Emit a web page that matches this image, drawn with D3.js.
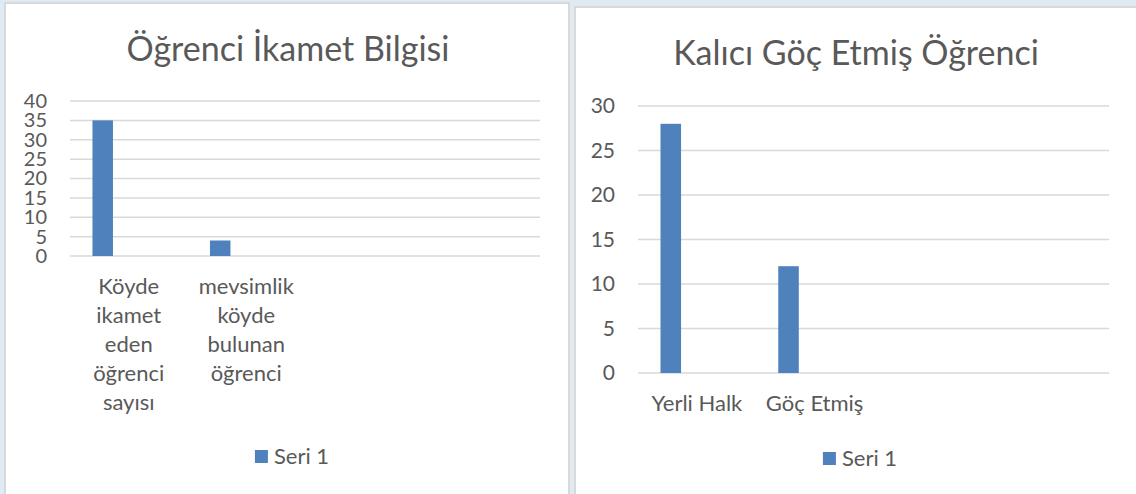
<!DOCTYPE html>
<html>
<head>
<meta charset="utf-8">
<script src="https://cdn.jsdelivr.net/npm/d3@7"></script>
<style>
    html, body { margin: 0; padding: 0; background: #dfeaf2; }
    svg { display: block; font-family: Lato, "Open Sans", sans-serif; }
</style>
</head>
<body>
<div id="charts"></div>
<script>
// Values
const ikametCategories = ["Köyde ikamet eden öğrenci sayısı", "mevsimlik köyde bulunan öğrenci", "", ""];
const ikametValues = [35, 4];
const ikametTicks = [0, 5, 10, 15, 20, 25, 30, 35, 40];

const gocCategories = ["Yerli Halk", "Göç Etmiş", "", ""];
const gocValues = [28, 12];
const gocTicks = [0, 5, 10, 15, 20, 25, 30];

// Excel clustered layout keeps room for three series; only the first has data
const seriesSlots = ["Seri 1", "Seri 2", "Seri 3"];
const legendLabel = "Seri 1";

(function () {
    const width = 1136;
    const height = 494;
    const textColor = '#595959';
    const barColor = '#4f81bd';

    const svg = d3.select('#charts')
        .append('svg')
        .attr('width', width)
        .attr('height', height);

    svg.append('rect')
        .attr('width', width)
        .attr('height', height)
        .attr('fill', '#dfeaf2');

    function drawChart(cfg) {
        const g = svg.append('g');

        // chart area (white panel)
        g.append('rect')
            .attr('x', cfg.panel[0])
            .attr('y', cfg.panel[1])
            .attr('width', cfg.panel[2])
            .attr('height', cfg.panel[3])
            .attr('fill', '#fff')
            .attr('stroke', '#d9d9d9')
            .attr('stroke-width', 2);

        g.append('text')
            .attr('x', cfg.titleX)
            .attr('y', cfg.titleY)
            .attr('text-anchor', 'middle')
            .attr('fill', textColor)
            .style('font-size', '34px')
            .text(cfg.title);

        const x0 = d3.scaleBand()
            .domain(d3.range(cfg.categories.length))
            .range([cfg.plotLeft, cfg.plotRight]);

        // gap width 219%, overlap -27%
        const x1 = d3.scaleBand()
            .domain(seriesSlots)
            .range([0, x0.bandwidth()])
            .paddingInner(0.27 / 1.27)
            .paddingOuter(1.095 / 1.27);

        const y = d3.scaleLinear()
            .domain([0, cfg.max])
            .range([cfg.plotBottom, cfg.plotTop]);

        // gridlines
        g.selectAll('.grid')
            .data(cfg.ticks)
            .enter()
            .append('line')
            .attr('x1', cfg.plotLeft)
            .attr('x2', cfg.plotRight)
            .attr('y1', d => y(d))
            .attr('y2', d => y(d))
            .attr('stroke', '#d9d9d9')
            .attr('stroke-width', 1.5);

        // y axis labels
        const yAxis = d3.axisLeft(y)
            .tickValues(cfg.ticks)
            .tickSize(0)
            .tickPadding(cfg.plotLeft - cfg.labelRight);

        const yg = g.append('g')
            .attr('transform', `translate(${cfg.plotLeft},0)`)
            .call(yAxis);
        yg.select('.domain').remove();
        yg.selectAll('text')
            .attr('fill', textColor)
            .style('font-family', 'Lato, "Open Sans", sans-serif')
            .style('font-size', cfg.tickSize + 'px');

        // bars
        g.selectAll('.bar')
            .data(cfg.values)
            .enter()
            .append('rect')
            .attr('x', (d, i) => x0(i) + x1(seriesSlots[0]))
            .attr('y', d => y(d))
            .attr('width', x1.bandwidth())
            .attr('height', d => y(0) - y(d))
            .attr('fill', barColor);

        // category labels, wrapped to the band width
        const maxW = x0.step() * 0.95;
        cfg.categories.forEach((label, i) => {
            if (!label) return;
            const t = g.append('text')
                .attr('text-anchor', 'middle')
                .attr('fill', textColor)
                .style('font-size', '22px');
            const words = label.split(' ');
            let lines = [];
            let line = [];
            words.forEach(w => {
                line.push(w);
                t.text(line.join(' '));
                if (t.node().getComputedTextLength() > maxW && line.length > 1) {
                    line.pop();
                    lines.push(line.join(' '));
                    line = [w];
                }
            });
            lines.push(line.join(' '));
            t.text(null);
            lines.forEach((ln, k) => {
                t.append('tspan')
                    .attr('x', x0(i) + x0.bandwidth() / 2)
                    .attr('y', cfg.plotBottom + 38 + k * 29)
                    .text(ln);
            });
        });

        // legend
        const leg = g.append('g');
        leg.append('rect')
            .attr('x', 0)
            .attr('y', -7)
            .attr('width', 13)
            .attr('height', 13)
            .attr('fill', barColor);
        const lt = leg.append('text')
            .attr('x', 19)
            .attr('y', 7)
            .attr('fill', textColor)
            .style('font-size', '22px')
            .text(legendLabel);
        const legW = 19 + lt.node().getComputedTextLength();
        leg.attr('transform', `translate(${cfg.titleX + 4 - legW / 2},${cfg.legendY})`);
    }

    drawChart({
        panel: [5, 3, 564, 520],
        title: 'Öğrenci İkamet Bilgisi',
        titleX: 288,
        titleY: 61,
        plotLeft: 70,
        plotRight: 540,
        plotTop: 101,
        plotBottom: 256,
        labelRight: 47,
        tickSize: 20,
        max: 40,
        ticks: ikametTicks,
        categories: ikametCategories,
        values: ikametValues,
        legendY: 457
    });

    drawChart({
        panel: [575, 7, 580, 520],
        title: 'Kalıcı Göç Etmiş Öğrenci',
        titleX: 856,
        titleY: 65,
        plotLeft: 638,
        plotRight: 1109,
        plotTop: 106,
        plotBottom: 373,
        labelRight: 615,
        tickSize: 21,
        max: 30,
        ticks: gocTicks,
        categories: gocCategories,
        values: gocValues,
        legendY: 459
    });
})();
</script>
</body>
</html>
